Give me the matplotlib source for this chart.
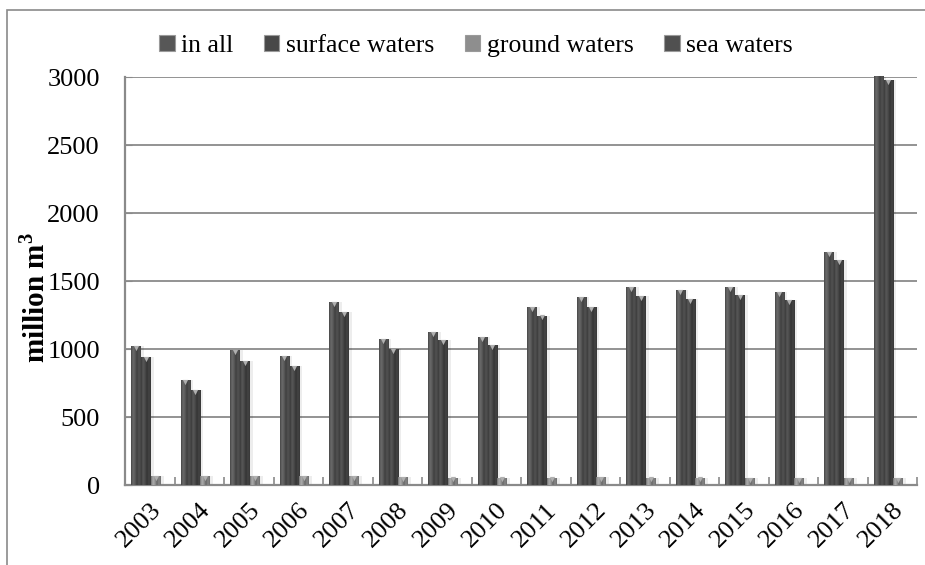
import numpy as np
import matplotlib
matplotlib.use("Agg")
import matplotlib.pyplot as plt
from matplotlib.patches import Patch, Rectangle
from matplotlib.colors import LinearSegmentedColormap

plt.rcParams['font.family'] = ['Liberation Serif', 'DejaVu Serif']
plt.rcParams['mathtext.fontset'] = 'custom'
plt.rcParams['mathtext.bf'] = 'Liberation Serif:bold'

years = ['2003', '2004', '2005', '2006', '2007', '2008', '2009', '2010',
         '2011', '2012', '2013', '2014', '2015', '2016', '2017', '2018']
in_all = [1020, 775, 995, 950, 1348, 1072, 1127, 1091,
          1306, 1382, 1458, 1431, 1453, 1421, 1715, 3010]
surface_waters = [938, 697, 913, 876, 1272, 998, 1064, 1029,
                  1246, 1306, 1391, 1368, 1395, 1363, 1654, 2975]
ground_waters = [66, 64, 66, 64, 64, 58, 55, 55,
                 55, 56, 55, 55, 52, 50, 50, 48]
sea_waters = [0, 0, 0, 0, 0, 0, 0, 0, 0, 0, 0, 0, 0, 0, 0, 0]

series = [("in all", in_all, "#575757"),
          ("surface waters", surface_waters, "#484848"),
          ("ground waters", ground_waters, "#8e8e8e"),
          ("sea waters", sea_waters, "#505050")]


def cylinder_cmap(base):
    c = np.array(matplotlib.colors.to_rgb(base))
    stops = [c * 0.80, np.clip(c * 1.22, 0, 1), c * 1.05, c * 0.72, c * 0.95, c * 0.78]
    return LinearSegmentedColormap.from_list("cyl", stops)


fig = plt.figure(figsize=(9.25, 5.65), dpi=100)
# outer chart frame
fig.patches.append(Rectangle((7 / 925, -0.2), 1.2, 1.2 - 10 / 565, transform=fig.transFigure,
                             fill=False, edgecolor="#8a8a8a", linewidth=1.2, zorder=0))

ax = fig.add_axes([125 / 925, 1 - 485 / 565, (917 - 125) / 925, (485 - 77) / 565])

x = np.arange(len(years))
width = 0.2
offsets = [-0.3, -0.1, 0.1, 0.3]
grad = np.linspace(0, 1, 64).reshape(1, -1)

for (name, vals, color), off in zip(series, offsets):
    bars = ax.bar(x + off + 0.02, vals, width * 0.96, color=color, zorder=3, linewidth=0)
    cmap = cylinder_cmap(color)
    for b, v in zip(bars, vals):
        if v <= 0:
            continue
        x0, y0 = b.get_x(), b.get_y()
        w, h = b.get_width(), b.get_height()
        # soft shadow on the right-hand side
        ax.add_patch(Rectangle((x0 + w, y0), w * 0.35, min(h, 3000), facecolor="#000000",
                               alpha=0.07, linewidth=0, zorder=2))
        im = ax.imshow(grad, cmap=cmap, aspect="auto", extent=(x0, x0 + w, y0, y0 + h),
                       zorder=3.5, interpolation="bilinear")
        im.set_clip_path(b)
    tops = np.array(vals, dtype=float)
    keep = (tops > 0) & (tops <= 3000)
    ax.scatter((x + off + 0.02)[keep], tops[keep] - 14, marker="v", s=14,
               color="#b0b0b0", linewidths=0, zorder=4)

ax.set_xlim(-0.5, len(years) - 0.5)
ax.set_ylim(0, 3000)
ax.set_yticks(np.arange(0, 3001, 500))
ax.yaxis.grid(True, color="#8a8a8a", linewidth=1.3, zorder=1)
ax.set_axisbelow(True)

ax.set_xticks(x)
ax.set_xticklabels(years, rotation=45, ha="right", rotation_mode="anchor", fontsize=19)
ax.set_xticks(np.arange(-0.5, len(years) - 0.4, 1), minor=True)
ax.tick_params(axis="x", which="major", length=0, pad=10)
ax.tick_params(axis="x", which="minor", direction="in", length=6, color="#8a8a8a", width=1.2)
ax.tick_params(axis="y", labelsize=19, length=5, color="#8a8a8a", direction="in", pad=18)

for side in ("top", "right"):
    ax.spines[side].set_visible(False)
for side in ("left", "bottom"):
    ax.spines[side].set_color("#8a8a8a")
    ax.spines[side].set_linewidth(1.6)

ax.set_ylabel("million m$^\\mathbf{3}$", fontsize=21, fontweight="bold")
ax.yaxis.set_label_coords(-0.094, 0.46)

handles = [Patch(facecolor=c, edgecolor="#9a9a9a", linewidth=0.8, label=n) for n, _, c in series]
fig.legend(handles=handles, loc="center", bbox_to_anchor=(476 / 925, 1 - 46 / 565), ncol=4,
           frameon=False, fontsize=18.5, handlelength=0.6, handleheight=0.6,
           handletextpad=0.25, columnspacing=1.2)

fig.savefig("out.png", dpi=100)
